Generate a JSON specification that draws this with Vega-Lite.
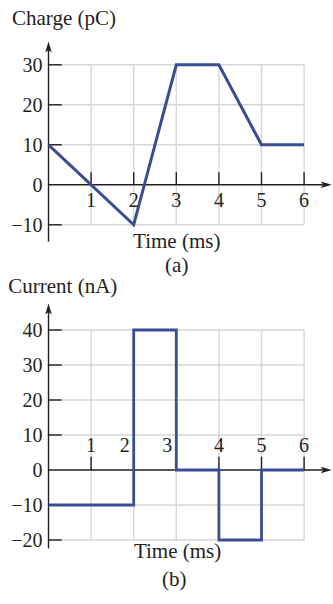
{
  "$schema": "https://vega.github.io/schema/vega-lite/v6.json",
  "width": 333,
  "height": 604,
  "autosize": {"type": "fit", "contains": "padding"},
  "padding": 0,
  "background": "white",
  "config": {
    "view": {"stroke": null},
    "text": {"font": "Liberation Serif", "fontSize": 20, "color": "#231f20"}
  },
  "datasets": {
    "charge": [
      {"t": 0, "q": 10}, {"t": 2, "q": -10}, {"t": 3, "q": 30},
      {"t": 4, "q": 30}, {"t": 5, "q": 10}, {"t": 6, "q": 10}
    ],
    "current": [
      {"t": 0, "i": -10}, {"t": 2, "i": 40}, {"t": 3, "i": 0},
      {"t": 4, "i": -20}, {"t": 5, "i": 0}, {"t": 6, "i": 0}
    ],
    "tticks": [{"t": 1}, {"t": 2}, {"t": 3}, {"t": 4}, {"t": 5}, {"t": 6}],
    "qgrid": [{"v": -10}, {"v": 10}, {"v": 20}, {"v": 30}],
    "qlabels": [{"v": -10}, {"v": 0}, {"v": 10}, {"v": 20}, {"v": 30}],
    "igrid": [{"v": -20}, {"v": -10}, {"v": 10}, {"v": 20}, {"v": 30}, {"v": 40}],
    "ilabels": [{"v": -20}, {"v": -10}, {"v": 0}, {"v": 10}, {"v": 20}, {"v": 30}, {"v": 40}],
    "one": [{}]
  },
  "resolve": {"scale": {"y": "independent"}},
  "layer": [
    {
      "layer": [
        {
          "data": {"name": "tticks"},
          "mark": {"type": "rule", "color": "#d6d6d6", "strokeWidth": 1.4},
          "encoding": {
            "x": {"field": "t", "type": "quantitative", "scale": {"domain": [-1.1385, 6.6784], "nice": false, "zero": false}, "axis": null},
            "y": {"datum": -10, "type": "quantitative", "scale": {"domain": [-104.8, 46.2], "nice": false, "zero": false}, "axis": null},
            "y2": {"datum": 30}
          }
        },
        {
          "data": {"name": "qgrid"},
          "mark": {"type": "rule", "color": "#d6d6d6", "strokeWidth": 1.4},
          "encoding": {
            "y": {"field": "v", "type": "quantitative", "scale": {"domain": [-104.8, 46.2], "nice": false, "zero": false}, "axis": null},
            "x": {"datum": 0, "type": "quantitative", "scale": {"domain": [-1.1385, 6.6784], "nice": false, "zero": false}, "axis": null},
            "x2": {"datum": 6}
          }
        },
        {
          "data": {"name": "qgrid"},
          "mark": {"type": "rule", "color": "#231f20", "strokeWidth": 1.4},
          "encoding": {
            "y": {"field": "v", "type": "quantitative", "scale": {"domain": [-104.8, 46.2], "nice": false, "zero": false}, "axis": null},
            "x": {"datum": 0, "type": "quantitative", "scale": {"domain": [-1.1385, 6.6784], "nice": false, "zero": false}, "axis": null},
            "x2": {"datum": 0.31}
          }
        },
        {
          "data": {"name": "tticks"},
          "mark": {"type": "rule", "color": "#231f20", "strokeWidth": 1.4},
          "encoding": {
            "x": {"field": "t", "type": "quantitative", "scale": {"domain": [-1.1385, 6.6784], "nice": false, "zero": false}, "axis": null},
            "y": {"datum": 0, "type": "quantitative", "scale": {"domain": [-104.8, 46.2], "nice": false, "zero": false}, "axis": null},
            "y2": {"datum": 3.15}
          }
        },
        {
          "data": {"name": "one"},
          "mark": {"type": "rule", "color": "#231f20", "strokeWidth": 1.4},
          "encoding": {
            "x": {"datum": 0, "type": "quantitative", "scale": {"domain": [-1.1385, 6.6784], "nice": false, "zero": false}, "axis": null},
            "y": {"datum": -14.2, "type": "quantitative", "scale": {"domain": [-104.8, 46.2], "nice": false, "zero": false}, "axis": null},
            "y2": {"datum": 34}
          }
        },
        {
          "data": {"name": "one"},
          "mark": {"type": "rule", "color": "#231f20", "strokeWidth": 1.4},
          "encoding": {
            "x": {"datum": 0, "type": "quantitative", "scale": {"domain": [-1.1385, 6.6784], "nice": false, "zero": false}, "axis": null},
            "x2": {"datum": 6.45},
            "y": {"datum": 0, "type": "quantitative", "scale": {"domain": [-104.8, 46.2], "nice": false, "zero": false}, "axis": null}
          }
        },
        {
          "data": {"name": "one"},
          "mark": {"type": "point", "shape": "M0,0L0.65,2.2L0,1.7L-0.65,2.2Z", "filled": true, "size": 100, "color": "#231f20", "opacity": 1, "strokeWidth": 0},
          "encoding": {
            "x": {"datum": 0, "type": "quantitative", "scale": {"domain": [-1.1385, 6.6784], "nice": false, "zero": false}, "axis": null},
            "y": {"datum": 35.8, "type": "quantitative", "scale": {"domain": [-104.8, 46.2], "nice": false, "zero": false}, "axis": null}
          }
        },
        {
          "data": {"name": "one"},
          "mark": {"type": "point", "shape": "M0,0L-2.2,-0.65L-1.7,0L-2.2,0.65Z", "filled": true, "size": 100, "color": "#231f20", "opacity": 1, "strokeWidth": 0},
          "encoding": {
            "x": {"datum": 6.65, "type": "quantitative", "scale": {"domain": [-1.1385, 6.6784], "nice": false, "zero": false}, "axis": null},
            "y": {"datum": 0, "type": "quantitative", "scale": {"domain": [-104.8, 46.2], "nice": false, "zero": false}, "axis": null}
          }
        },
        {
          "data": {"name": "charge"},
          "mark": {"type": "line", "color": "#3b4c93", "strokeWidth": 3, "strokeJoin": "miter"},
          "encoding": {
            "x": {"field": "t", "type": "quantitative", "scale": {"domain": [-1.1385, 6.6784], "nice": false, "zero": false}, "axis": null},
            "y": {"field": "q", "type": "quantitative", "scale": {"domain": [-104.8, 46.2], "nice": false, "zero": false}, "axis": null}
          }
        },
        {
          "data": {"name": "qlabels"},
          "mark": {"type": "text", "align": "right", "baseline": "middle", "dx": -6, "dy": 1},
          "encoding": {
            "x": {"datum": 0, "type": "quantitative", "scale": {"domain": [-1.1385, 6.6784], "nice": false, "zero": false}, "axis": null},
            "y": {"field": "v", "type": "quantitative", "scale": {"domain": [-104.8, 46.2], "nice": false, "zero": false}, "axis": null},
            "text": {"field": "v", "type": "quantitative", "format": "d"}
          }
        },
        {
          "data": {"name": "tticks"},
          "mark": {"type": "text", "align": "center", "baseline": "alphabetic", "dy": 22},
          "encoding": {
            "x": {"field": "t", "type": "quantitative", "scale": {"domain": [-1.1385, 6.6784], "nice": false, "zero": false}, "axis": null},
            "y": {"datum": 0, "type": "quantitative", "scale": {"domain": [-104.8, 46.2], "nice": false, "zero": false}, "axis": null},
            "text": {"field": "t", "type": "quantitative", "format": "d"}
          }
        },
        {
          "data": {"name": "one"},
          "mark": {"type": "text", "align": "left", "baseline": "alphabetic", "fontSize": 21},
          "encoding": {
            "x": {"datum": -0.857, "type": "quantitative", "scale": {"domain": [-1.1385, 6.6784], "nice": false, "zero": false}, "axis": null},
            "y": {"datum": 39.95, "type": "quantitative", "scale": {"domain": [-104.8, 46.2], "nice": false, "zero": false}, "axis": null},
            "text": {"value": "Charge (pC)"}
          }
        },
        {
          "data": {"name": "one"},
          "mark": {"type": "text", "align": "center", "baseline": "alphabetic", "fontSize": 21},
          "encoding": {
            "x": {"datum": 3.01, "type": "quantitative", "scale": {"domain": [-1.1385, 6.6784], "nice": false, "zero": false}, "axis": null},
            "y": {"datum": -15.8, "type": "quantitative", "scale": {"domain": [-104.8, 46.2], "nice": false, "zero": false}, "axis": null},
            "text": {"value": "Time (ms)"}
          }
        },
        {
          "data": {"name": "one"},
          "mark": {"type": "text", "align": "center", "baseline": "alphabetic", "fontSize": 21},
          "encoding": {
            "x": {"datum": 3.01, "type": "quantitative", "scale": {"domain": [-1.1385, 6.6784], "nice": false, "zero": false}, "axis": null},
            "y": {"datum": -21.9, "type": "quantitative", "scale": {"domain": [-104.8, 46.2], "nice": false, "zero": false}, "axis": null},
            "text": {"value": "(a)"}
          }
        }
      ]
    },
    {
      "layer": [
        {
          "data": {"name": "tticks"},
          "mark": {"type": "rule", "color": "#d6d6d6", "strokeWidth": 1.4},
          "encoding": {
            "x": {"field": "t", "type": "quantitative", "scale": {"domain": [-1.1385, 6.6784], "nice": false, "zero": false}, "axis": null},
            "y": {"datum": -20, "type": "quantitative", "scale": {"domain": [-38.286, 134.286], "nice": false, "zero": false}, "axis": null},
            "y2": {"datum": 40}
          }
        },
        {
          "data": {"name": "igrid"},
          "mark": {"type": "rule", "color": "#d6d6d6", "strokeWidth": 1.4},
          "encoding": {
            "y": {"field": "v", "type": "quantitative", "scale": {"domain": [-38.286, 134.286], "nice": false, "zero": false}, "axis": null},
            "x": {"datum": 0, "type": "quantitative", "scale": {"domain": [-1.1385, 6.6784], "nice": false, "zero": false}, "axis": null},
            "x2": {"datum": 6}
          }
        },
        {
          "data": {"name": "igrid"},
          "mark": {"type": "rule", "color": "#231f20", "strokeWidth": 1.4},
          "encoding": {
            "y": {"field": "v", "type": "quantitative", "scale": {"domain": [-38.286, 134.286], "nice": false, "zero": false}, "axis": null},
            "x": {"datum": 0, "type": "quantitative", "scale": {"domain": [-1.1385, 6.6784], "nice": false, "zero": false}, "axis": null},
            "x2": {"datum": 0.31}
          }
        },
        {
          "data": {"name": "tticks"},
          "mark": {"type": "rule", "color": "#231f20", "strokeWidth": 1.4},
          "encoding": {
            "x": {"field": "t", "type": "quantitative", "scale": {"domain": [-1.1385, 6.6784], "nice": false, "zero": false}, "axis": null},
            "y": {"datum": 0, "type": "quantitative", "scale": {"domain": [-38.286, 134.286], "nice": false, "zero": false}, "axis": null},
            "y2": {"datum": 3.8}
          }
        },
        {
          "data": {"name": "one"},
          "mark": {"type": "rule", "color": "#231f20", "strokeWidth": 1.4},
          "encoding": {
            "x": {"datum": 0, "type": "quantitative", "scale": {"domain": [-1.1385, 6.6784], "nice": false, "zero": false}, "axis": null},
            "y": {"datum": -22.4, "type": "quantitative", "scale": {"domain": [-38.286, 134.286], "nice": false, "zero": false}, "axis": null},
            "y2": {"datum": 45.5}
          }
        },
        {
          "data": {"name": "one"},
          "mark": {"type": "rule", "color": "#231f20", "strokeWidth": 1.4},
          "encoding": {
            "x": {"datum": 0, "type": "quantitative", "scale": {"domain": [-1.1385, 6.6784], "nice": false, "zero": false}, "axis": null},
            "x2": {"datum": 6.45},
            "y": {"datum": 0, "type": "quantitative", "scale": {"domain": [-38.286, 134.286], "nice": false, "zero": false}, "axis": null}
          }
        },
        {
          "data": {"name": "one"},
          "mark": {"type": "point", "shape": "M0,0L0.65,2.2L0,1.7L-0.65,2.2Z", "filled": true, "size": 100, "color": "#231f20", "opacity": 1, "strokeWidth": 0},
          "encoding": {
            "x": {"datum": 0, "type": "quantitative", "scale": {"domain": [-1.1385, 6.6784], "nice": false, "zero": false}, "axis": null},
            "y": {"datum": 47.6, "type": "quantitative", "scale": {"domain": [-38.286, 134.286], "nice": false, "zero": false}, "axis": null}
          }
        },
        {
          "data": {"name": "one"},
          "mark": {"type": "point", "shape": "M0,0L-2.2,-0.65L-1.7,0L-2.2,0.65Z", "filled": true, "size": 100, "color": "#231f20", "opacity": 1, "strokeWidth": 0},
          "encoding": {
            "x": {"datum": 6.65, "type": "quantitative", "scale": {"domain": [-1.1385, 6.6784], "nice": false, "zero": false}, "axis": null},
            "y": {"datum": 0, "type": "quantitative", "scale": {"domain": [-38.286, 134.286], "nice": false, "zero": false}, "axis": null}
          }
        },
        {
          "data": {"name": "current"},
          "mark": {"type": "line", "color": "#3b4c93", "strokeWidth": 2.8, "interpolate": "step-after", "strokeJoin": "miter"},
          "encoding": {
            "x": {"field": "t", "type": "quantitative", "scale": {"domain": [-1.1385, 6.6784], "nice": false, "zero": false}, "axis": null},
            "y": {"field": "i", "type": "quantitative", "scale": {"domain": [-38.286, 134.286], "nice": false, "zero": false}, "axis": null}
          }
        },
        {
          "data": {"name": "ilabels"},
          "mark": {"type": "text", "align": "right", "baseline": "middle", "dx": -6, "dy": 1},
          "encoding": {
            "x": {"datum": 0, "type": "quantitative", "scale": {"domain": [-1.1385, 6.6784], "nice": false, "zero": false}, "axis": null},
            "y": {"field": "v", "type": "quantitative", "scale": {"domain": [-38.286, 134.286], "nice": false, "zero": false}, "axis": null},
            "text": {"field": "v", "type": "quantitative", "format": "d"}
          }
        },
        {
          "data": {"name": "tticks"},
          "transform": [{"filter": "datum.t !== 2 && datum.t !== 3"}],
          "mark": {"type": "text", "align": "center", "baseline": "alphabetic", "dy": -17.5},
          "encoding": {
            "x": {"field": "t", "type": "quantitative", "scale": {"domain": [-1.1385, 6.6784], "nice": false, "zero": false}, "axis": null},
            "y": {"datum": 0, "type": "quantitative", "scale": {"domain": [-38.286, 134.286], "nice": false, "zero": false}, "axis": null},
            "text": {"field": "t", "type": "quantitative", "format": "d"}
          }
        },
        {
          "data": {"name": "tticks"},
          "transform": [{"filter": "datum.t === 2 || datum.t === 3"}],
          "mark": {"type": "text", "align": "center", "baseline": "alphabetic", "dy": -17.5, "dx": -9},
          "encoding": {
            "x": {"field": "t", "type": "quantitative", "scale": {"domain": [-1.1385, 6.6784], "nice": false, "zero": false}, "axis": null},
            "y": {"datum": 0, "type": "quantitative", "scale": {"domain": [-38.286, 134.286], "nice": false, "zero": false}, "axis": null},
            "text": {"field": "t", "type": "quantitative", "format": "d"}
          }
        },
        {
          "data": {"name": "one"},
          "mark": {"type": "text", "align": "left", "baseline": "alphabetic", "fontSize": 21},
          "encoding": {
            "x": {"datum": -0.944, "type": "quantitative", "scale": {"domain": [-1.1385, 6.6784], "nice": false, "zero": false}, "axis": null},
            "y": {"datum": 50.5, "type": "quantitative", "scale": {"domain": [-38.286, 134.286], "nice": false, "zero": false}, "axis": null},
            "text": {"value": "Current (nA)"}
          }
        },
        {
          "data": {"name": "one"},
          "mark": {"type": "text", "align": "center", "baseline": "alphabetic", "fontSize": 21},
          "encoding": {
            "x": {"datum": 3.03, "type": "quantitative", "scale": {"domain": [-1.1385, 6.6784], "nice": false, "zero": false}, "axis": null},
            "y": {"datum": -25.2, "type": "quantitative", "scale": {"domain": [-38.286, 134.286], "nice": false, "zero": false}, "axis": null},
            "text": {"value": "Time (ms)"}
          }
        },
        {
          "data": {"name": "one"},
          "mark": {"type": "text", "align": "center", "baseline": "alphabetic", "fontSize": 21},
          "encoding": {
            "x": {"datum": 2.95, "type": "quantitative", "scale": {"domain": [-1.1385, 6.6784], "nice": false, "zero": false}, "axis": null},
            "y": {"datum": -33.1, "type": "quantitative", "scale": {"domain": [-38.286, 134.286], "nice": false, "zero": false}, "axis": null},
            "text": {"value": "(b)"}
          }
        }
      ]
    }
  ]
}
